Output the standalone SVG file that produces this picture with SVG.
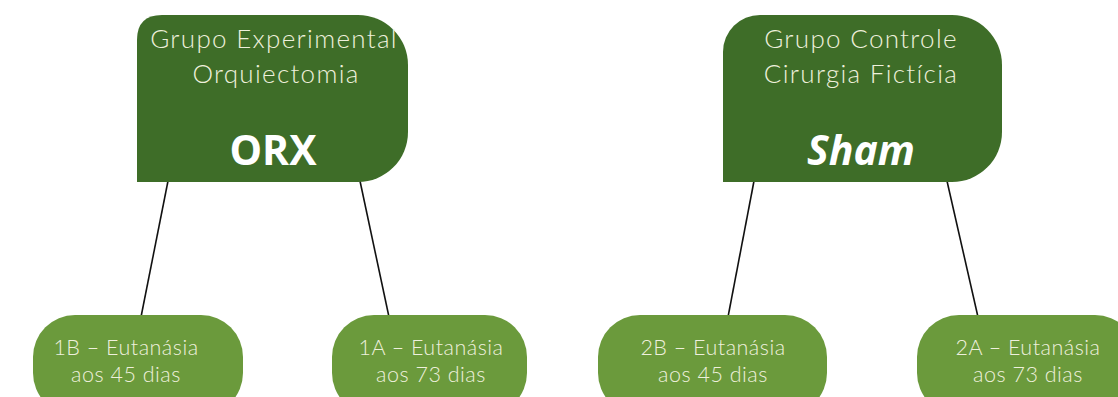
<svg xmlns="http://www.w3.org/2000/svg" width="1118" height="397" viewBox="0 0 1118 397">
  <style>
    .group { fill: #3e6d28; }
    .pill { fill: #6b9a3c; }
    .head { font-family: Lato, "Open Sans", sans-serif; font-size: 26px; font-weight: 300; letter-spacing: 1.3px; fill: #eef0dc; text-anchor: middle; }
    .big { font-family: "Open Sans", Lato, sans-serif; font-size: 41px; font-weight: bold; fill: #ffffff; text-anchor: middle; }
    .sub { font-family: Lato, "Open Sans", sans-serif; font-size: 21.5px; font-weight: 300; letter-spacing: 0.5px; fill: #eef0dc; text-anchor: middle; }
    .link { stroke: #111111; stroke-width: 1.6; fill: none; }
  </style>
  <rect width="1118" height="397" fill="#ffffff"/>

  <!-- connectors -->
  <g id="connectors">
    <line class="link" x1="168" y1="181" x2="141" y2="317"/>
    <line class="link" x1="360" y1="181" x2="389" y2="317"/>
    <line class="link" x1="754" y1="181" x2="728" y2="317"/>
    <line class="link" x1="947" y1="181" x2="978" y2="317"/>
  </g>

  <!-- experimental group -->
  <g id="orx">
    <path class="group" d="M137 40 Q137 15 162 15 L358 15 A50 50 0 0 1 408 65 L408 132 A50 50 0 0 1 358 182 L137 182 Z"/>
    <text class="head" x="274" y="48">Grupo Experimental</text>
    <text class="head" x="276" y="83">Orquiectomia</text>
    <text class="big" x="273" y="165">ORX</text>
  </g>

  <!-- control group -->
  <g id="sham">
    <path class="group" d="M723 52 A37 37 0 0 1 760 15 L952 15 A50 50 0 0 1 1002 65 L1002 132 A50 50 0 0 1 952 182 L723 182 Z"/>
    <text class="head" x="861" y="48">Grupo Controle</text>
    <text class="head" x="861" y="83">Cirurgia Fictícia</text>
    <text class="big" x="861" y="165" font-style="italic">Sham</text>
  </g>

  <!-- subgroups -->
  <g id="g1b">
    <rect class="pill" x="33" y="315" width="210" height="100" rx="42"/>
    <text class="sub" x="126" y="355">1B – Eutanásia</text>
    <text class="sub" x="126" y="382">aos 45 dias</text>
  </g>
  <g id="g1a">
    <rect class="pill" x="332" y="315" width="195" height="100" rx="42"/>
    <text class="sub" x="431" y="355">1A – Eutanásia</text>
    <text class="sub" x="431" y="382">aos 73 dias</text>
  </g>
  <g id="g2b">
    <rect class="pill" x="598" y="315" width="229" height="100" rx="42"/>
    <text class="sub" x="713" y="355">2B – Eutanásia</text>
    <text class="sub" x="713" y="382">aos 45 dias</text>
  </g>
  <g id="g2a">
    <rect class="pill" x="917" y="315" width="220" height="100" rx="42"/>
    <text class="sub" x="1028" y="355">2A – Eutanásia</text>
    <text class="sub" x="1028" y="382">aos 73 dias</text>
  </g>
</svg>
